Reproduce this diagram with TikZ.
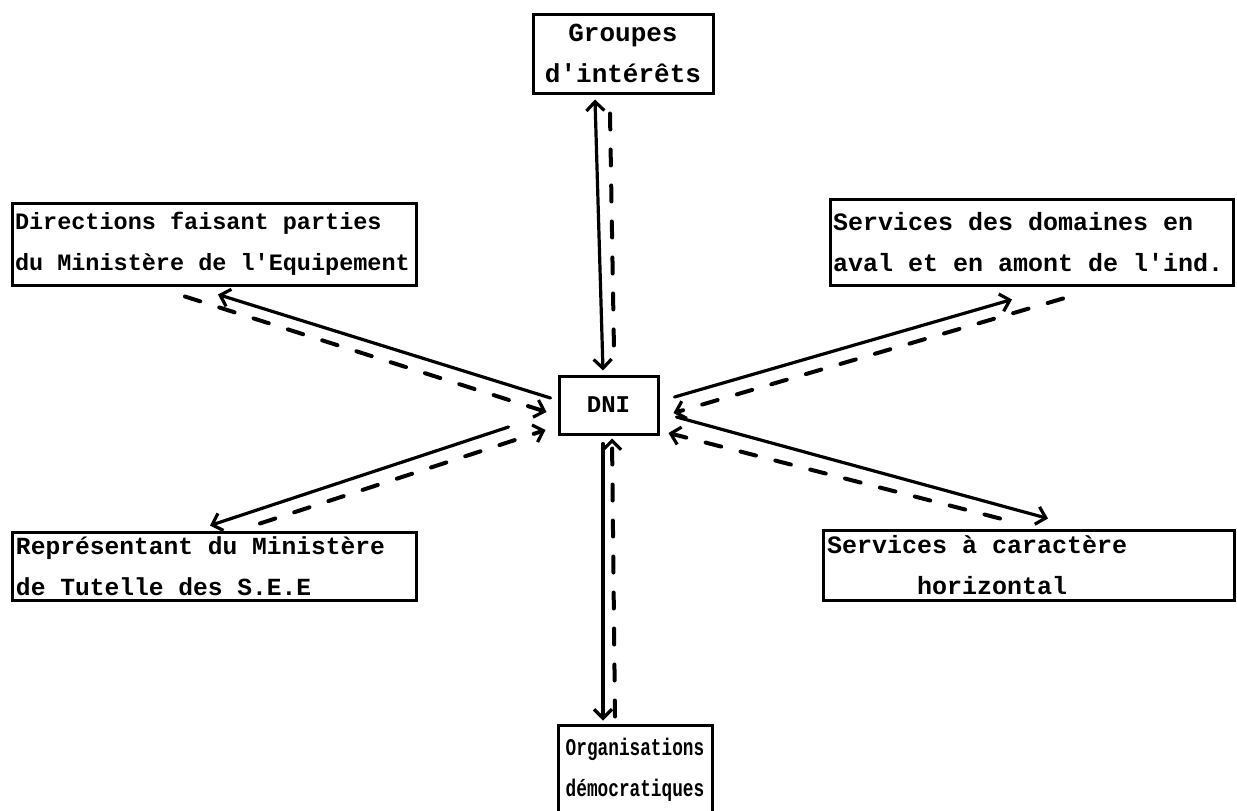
\documentclass[tikz,border=0pt]{standalone}
\usepackage{fontspec}
\newfontfamily\typefont{Liberation Mono}
\newfontfamily\narrowtype{Liberation Mono}[FakeStretch=0.74]
\usetikzlibrary{arrows.meta}

% typewriter size with a fixed full-width word space
\newcommand{\tsize}[1]{\fontsize{#1}{41}\selectfont
  \fontdimen2\font=0.6em \fontdimen3\font=0pt \fontdimen4\font=0pt\relax}

\tikzset{
  box/.style={draw, line width=3pt, inner ysep=0pt, inner xsep=6pt},
  link/.style={line width=3.2pt, line cap=round},
  dlink/.style={line width=4pt, line cap=round, dash pattern=on 16pt off 20pt},
  barb/.tip={Straight Barb[length=9pt,width=18pt,line width=3.2pt]},
  tip/.style={-barb},
  tips/.style={barb-barb},
}

\begin{document}
\begin{tikzpicture}[x=1pt,y=-1pt]
\useasboundingbox (0,0) rectangle (1237,811);
\clip (0,0) rectangle (1237,811);

% central office and its partners
\node[box, minimum width=99pt, minimum height=58pt, font=\typefont\bfseries\tsize{24}] (dni) at (608.5,405) {DNI};

\node[box, minimum width=180pt, minimum height=79pt, align=center,
      font=\typefont\bfseries\tsize{26}] (grp) at (623,53.5)
  {Groupes\\d'intérêts};

\node[box, minimum width=404pt, minimum height=82pt, text width=398pt, inner xsep=3pt, align=flush left,
      font=\typefont\bfseries\tsize{23.5}] (dir) at (214,244)
  {Directions faisant parties\\du Ministère de l'Equipement};

\node[box, minimum width=403pt, minimum height=86pt, text width=397pt, inner xsep=3pt, align=flush left,
      font=\typefont\bfseries\tsize{25}] (srv) at (1031.5,242)
  {Services des domaines en\\aval et en amont de l'ind.};

\node[box, minimum width=404pt, minimum height=68pt, text width=396pt, inner xsep=4pt, align=flush left,
      font=\typefont\bfseries\tsize{24.6}] (rep) at (214,566)
  {Représentant du Ministère\\de Tutelle des S.E.E};

\node[box, minimum width=411pt, minimum height=70pt, text width=403pt, inner xsep=4pt, align=flush left,
      font=\typefont\bfseries\tsize{25}] (hor) at (1028.5,565)
  {Services à caractère\\\hspace*{3.6em}horizontal};

\node[box, minimum width=154pt, minimum height=90pt, align=center,
      font=\narrowtype\bfseries\tsize{24}] (org) at (635,770)
  {Organisations\\démocratiques};

% vertical links
\draw[link, tips] ([shift={(-28,5)}]grp.south) -- ([shift={(-5.5,-4)}]dni.north);
\draw[dlink] ([shift={(-13,19)}]grp.south) -- ([shift={(5.5,-24)}]dni.north);
\draw[link, tip] ([shift={(-5.5,8)}]dni.south) -- ([shift={(-32,-3)}]org.north);
\draw[dlink, tip] ([shift={(-20,-7)}]org.north) -- ([shift={(3.5,3)}]dni.south);

% left links
\draw[link, tip] ([shift={(-7,-7)}]dni.west) -- ([shift={(4,8)}]dir.south);
\draw[dlink, tip] ([shift={(-29,10)}]dir.south) -- ([shift={(-11,7)}]dni.west);
\draw[link, tip] ([shift={(-49,22)}]dni.west) -- ([shift={(-4,-5)}]rep.north);
\draw[dlink, tip] ([shift={(46,-7)}]rep.north) -- ([shift={(-12,25)}]dni.west);

% right links
\draw[link, tip] ([shift={(15,-8)}]dni.east) -- ([shift={(-19.5,13)}]srv.south);
\draw[dlink, tip] ([shift={(31.5,12)}]srv.south) -- ([shift={(14,8)}]dni.east);
\draw[link, tip] ([shift={(17,12)}]dni.east) -- ([shift={(19.5,-10)}]hor.north);
\draw[dlink, tip] ([shift={(-28.5,-10)}]hor.north) -- ([shift={(9,28)}]dni.east);
\end{tikzpicture}
\end{document}
